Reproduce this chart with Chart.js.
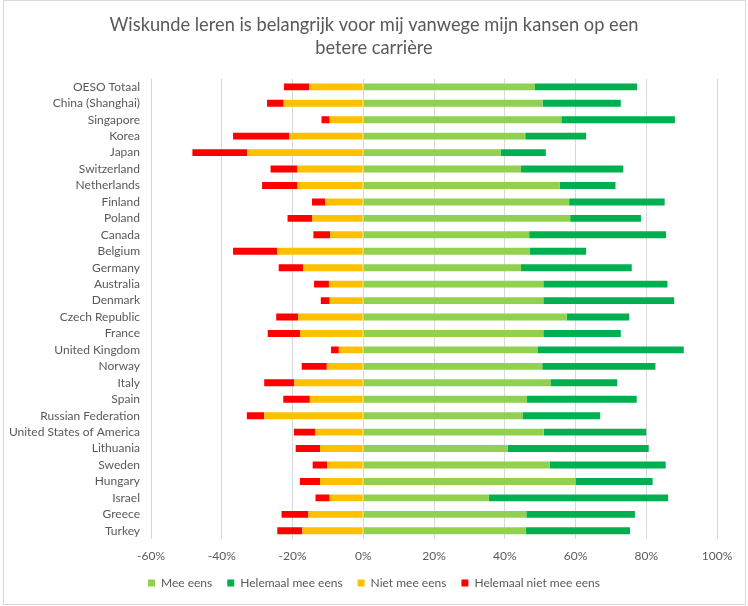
<!DOCTYPE html>
<html>
<head>
<meta charset="utf-8">
<script src="https://cdn.jsdelivr.net/npm/chart.js@4"></script>
<style>
  html, body { margin: 0; padding: 0; background: #fff; }
  #wrap { position: relative; width: 748px; height: 606px; }
  #frame { position: absolute; left: 3px; top: 0; width: 741px; height: 603px; border: 1px solid #d9d9d9; pointer-events: none; }
</style>
</head>
<body>
<div id="wrap">
  <canvas id="chart" width="748" height="606"></canvas>
  <div id="frame"></div>
</div>
<script>
const ctx = document.getElementById("chart");

const countries = [
  "OESO Totaal", "China (Shanghai)", "Singapore", "Korea", "Japan", "Switzerland",
  "Netherlands", "Finland", "Poland", "Canada", "Belgium", "Germany", "Australia",
  "Denmark", "Czech Republic", "France", "United Kingdom", "Norway", "Italy", "Spain",
  "Russian Federation", "United States of America", "Lithuania", "Sweden", "Hungary",
  "Israel", "Greece", "Turkey"
];

// percentages
const meeEens = [
  48.4, 50.7, 56.0, 45.8, 38.8, 44.6, 55.5, 58.2, 58.5, 46.9, 47.1, 44.6, 50.9, 50.9,
  57.5, 50.9, 49.4, 50.6, 52.9, 46.3, 45.0, 51.0, 40.9, 52.7, 60.0, 35.5, 46.1, 45.9
];
const helemaalMeeEens = [
  29.0, 22.1, 32.1, 17.2, 12.8, 28.9, 15.8, 27.0, 20.0, 38.7, 15.9, 31.3, 35.1, 37.0,
  17.7, 21.9, 41.2, 32.0, 18.9, 31.0, 22.0, 29.0, 39.8, 32.8, 21.8, 50.7, 30.7, 29.5
];
const nietMeeEens = [
  -15.3, -22.5, -9.5, -20.9, -32.8, -18.6, -18.6, -10.7, -14.4, -9.3, -24.3, -17.0, -9.7, -9.5,
  -18.4, -17.8, -6.9, -10.3, -19.5, -15.1, -28.0, -13.6, -12.2, -10.2, -12.2, -9.5, -15.5, -17.2
];
const helemaalNietMeeEens = [
  -7.1, -4.7, -2.3, -15.9, -15.5, -7.6, -10.0, -3.8, -7.0, -4.8, -12.5, -6.9, -4.2, -2.5,
  -6.2, -9.2, -2.2, -7.1, -8.5, -7.5, -4.9, -6.0, -6.9, -4.1, -5.7, -4.0, -7.6, -7.1
];

const textColor = "#595959";
const font = "Lato, 'Liberation Sans', sans-serif";

function bar(label, data, color) {
  return {
    label: label,
    data: data,
    backgroundColor: color,
    borderWidth: 0,
    categoryPercentage: 1,
    barPercentage: 0.42,
  };
}

// title and legend are centred on the whole page, not on the padded box
const centerBlocks = {
  id: "centerBlocks",
  afterLayout(chart) {
    [chart.titleBlock, chart.legend].forEach((b) => {
      if (!b) return;
      b.left = 0;
      b.right = chart.width;
      b.width = chart.width;
    });
  },
};

new Chart(ctx, {
  type: "bar",
  data: {
    labels: countries,
    datasets: [
      bar("Mee eens", meeEens, "#92d050"),
      bar("Helemaal mee eens", helemaalMeeEens, "#00b050"),
      bar("Niet mee eens", nietMeeEens, "#ffc000"),
      bar("Helemaal niet mee eens", helemaalNietMeeEens, "#ff0000"),
    ],
  },
  plugins: [centerBlocks],
  options: {
    indexAxis: "y",
    responsive: false,
    animation: false,
    layout: { padding: { left: 0, right: 31, top: 0, bottom: 7 } },
    scales: {
      x: {
        stacked: true,
        min: -60,
        max: 100,
        ticks: {
          stepSize: 20,
          color: textColor,
          font: { family: font, size: 12 },
          padding: 10,
          callback: (v) => v + "%",
        },
        grid: { color: "#d9d9d9", drawTicks: false },
        border: { display: false },
        afterFit: (s) => { s.height = 23; },
      },
      y: {
        stacked: true,
        ticks: {
          color: textColor,
          font: { family: font, size: 12 },
          padding: 11,
          autoSkip: false,
        },
        grid: { display: false, drawTicks: false },
        border: { display: false },
        afterFit: (s) => { s.width = 151; },
      },
    },
    plugins: {
      title: {
        display: true,
        text: [
          "Wiskunde leren is belangrijk voor mij vanwege mijn kansen op een",
          "betere carrière",
        ],
        color: textColor,
        font: { family: font, size: 18.25, weight: "normal", lineHeight: 1.25 },
        padding: { top: 14, bottom: 19 },
      },
      legend: {
        position: "bottom",
        labels: {
          color: textColor,
          font: { family: font, size: 12 },
          boxWidth: 7,
          boxHeight: 7,
          padding: 15,
        },
      },
      tooltip: { enabled: false },
    },
  },
});
</script>
</body>
</html>
